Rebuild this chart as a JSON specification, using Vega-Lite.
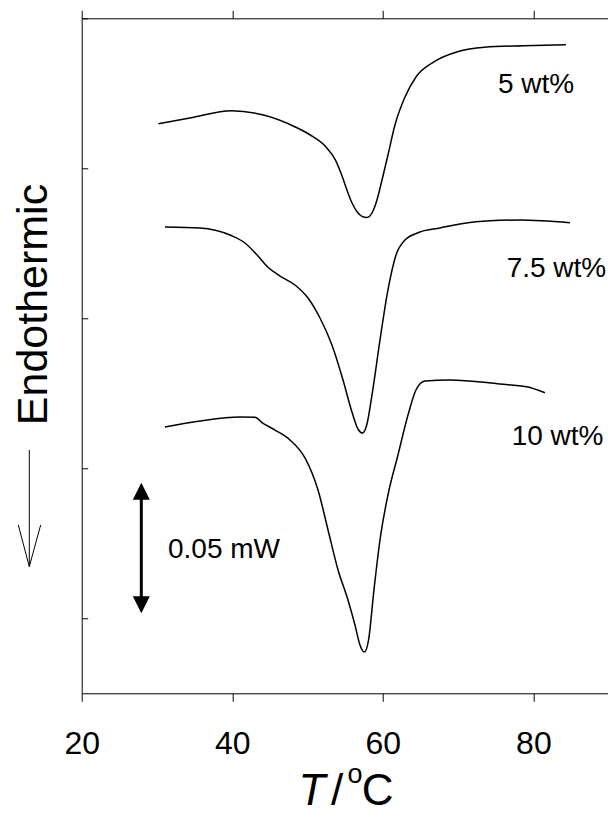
{
  "$schema": "https://vega.github.io/schema/vega-lite/v6.json",
  "width": 527,
  "height": 675,
  "autosize": "none",
  "padding": {"left": 81.7, "top": 18.3, "right": 0, "bottom": 128.7},
  "config": {
    "view": {"stroke": "#000", "strokeWidth": 1},
    "font": "Liberation Sans",
    "axis": {"grid": false, "domainColor": "#000", "tickColor": "#000", "labelColor": "#000", "titleColor": "#000", "labelFont": "Liberation Sans", "titleFont": "Liberation Sans"}
  },
  "datasets": {
    "curves": [
      {"s":"5 wt%","T":30.19,"q":3.797},{"s":"5 wt%","T":34.38,"q":3.835},{"s":"5 wt%","T":39.92,"q":3.884},{"s":"5 wt%","T":44.15,"q":3.855},{"s":"5 wt%","T":48.30,"q":3.777},{"s":"5 wt%","T":50.36,"q":3.722},{"s":"5 wt%","T":52.42,"q":3.644},{"s":"5 wt%","T":53.71,"q":3.555},{"s":"5 wt%","T":54.50,"q":3.460},{"s":"5 wt%","T":55.20,"q":3.360},{"s":"5 wt%","T":55.90,"q":3.270},{"s":"5 wt%","T":56.57,"q":3.210},{"s":"5 wt%","T":57.23,"q":3.180},{"s":"5 wt%","T":57.89,"q":3.172},{"s":"5 wt%","T":58.56,"q":3.202},{"s":"5 wt%","T":59.22,"q":3.289},{"s":"5 wt%","T":59.89,"q":3.422},{"s":"5 wt%","T":60.68,"q":3.589},{"s":"5 wt%","T":61.61,"q":3.789},{"s":"5 wt%","T":62.94,"q":3.975},{"s":"5 wt%","T":64.40,"q":4.109},{"s":"5 wt%","T":66.83,"q":4.211},{"s":"5 wt%","T":69.91,"q":4.277},{"s":"5 wt%","T":73.51,"q":4.307},{"s":"5 wt%","T":78.67,"q":4.317},{"s":"5 wt%","T":84.32,"q":4.324},
      {"s":"7.5 wt%","T":31.06,"q":3.109},{"s":"7.5 wt%","T":35.71,"q":3.102},{"s":"7.5 wt%","T":39.70,"q":3.055},{"s":"7.5 wt%","T":41.69,"q":3.002},{"s":"7.5 wt%","T":43.42,"q":2.915},{"s":"7.5 wt%","T":44.74,"q":2.840},{"s":"7.5 wt%","T":46.34,"q":2.782},{"s":"7.5 wt%","T":48.33,"q":2.722},{"s":"7.5 wt%","T":50.06,"q":2.635},{"s":"7.5 wt%","T":51.65,"q":2.502},{"s":"7.5 wt%","T":53.24,"q":2.322},{"s":"7.5 wt%","T":54.71,"q":2.089},{"s":"7.5 wt%","T":55.90,"q":1.875},{"s":"7.5 wt%","T":56.70,"q":1.762},{"s":"7.5 wt%","T":57.30,"q":1.735},{"s":"7.5 wt%","T":57.86,"q":1.789},{"s":"7.5 wt%","T":58.56,"q":1.989},{"s":"7.5 wt%","T":59.62,"q":2.355},{"s":"7.5 wt%","T":60.68,"q":2.689},{"s":"7.5 wt%","T":61.75,"q":2.922},{"s":"7.5 wt%","T":62.94,"q":3.022},{"s":"7.5 wt%","T":64.93,"q":3.075},{"s":"7.5 wt%","T":67.59,"q":3.102},{"s":"7.5 wt%","T":70.24,"q":3.129},{"s":"7.5 wt%","T":74.23,"q":3.151},{"s":"7.5 wt%","T":78.21,"q":3.155},{"s":"7.5 wt%","T":84.85,"q":3.137},
      {"s":"10 wt%","T":31.06,"q":1.775},{"s":"10 wt%","T":35.71,"q":1.815},{"s":"10 wt%","T":41.02,"q":1.842},{"s":"10 wt%","T":43.02,"q":1.840},{"s":"10 wt%","T":43.95,"q":1.805},{"s":"10 wt%","T":45.67,"q":1.755},{"s":"10 wt%","T":47.67,"q":1.689},{"s":"10 wt%","T":49.66,"q":1.569},{"s":"10 wt%","T":51.39,"q":1.355},{"s":"10 wt%","T":52.72,"q":1.089},{"s":"10 wt%","T":54.05,"q":0.822},{"s":"10 wt%","T":55.37,"q":0.622},{"s":"10 wt%","T":56.30,"q":0.455},{"s":"10 wt%","T":56.96,"q":0.322},{"s":"10 wt%","T":57.55,"q":0.275},{"s":"10 wt%","T":58.10,"q":0.355},{"s":"10 wt%","T":58.82,"q":0.689},{"s":"10 wt%","T":59.62,"q":1.022},{"s":"10 wt%","T":60.68,"q":1.322},{"s":"10 wt%","T":62.01,"q":1.589},{"s":"10 wt%","T":63.34,"q":1.855},{"s":"10 wt%","T":64.40,"q":2.022},{"s":"10 wt%","T":65.60,"q":2.082},{"s":"10 wt%","T":68.92,"q":2.089},{"s":"10 wt%","T":75.56,"q":2.062},{"s":"10 wt%","T":79.10,"q":2.044},{"s":"10 wt%","T":81.53,"q":2.004}
    ],
    "labels": [
      {"label":"5 wt%","T":75.29,"q":4.0},
      {"label":"7.5 wt%","T":76.45,"q":2.777},
      {"label":"10 wt%","T":77.11,"q":1.655}
    ]
  },
  "layer": [
    {
      "data": {"name": "curves"},
      "mark": {"type": "line", "interpolate": "monotone", "color": "#000", "strokeWidth": 1.5, "clip": false},
      "encoding": {
        "x": {"field": "T", "type": "quantitative", "scale": {"domain": [20, 90], "nice": false, "zero": false},
          "axis": {"orient": "bottom", "values": [20, 40, 60, 80], "tickSize": 8, "labelFontSize": 32, "labelPadding": 27, "labelFlush": false, "labelOverlap": false, "domain": false, "title": null}},
        "y": {"field": "q", "type": "quantitative", "scale": {"domain": [0, 4.5], "nice": false, "zero": false},
          "axis": {"orient": "left", "values": [0.5, 1.5, 2.5, 3.5, 4.5], "tickSize": -6, "labels": false, "domain": false,
            "title": "Endothermic", "titleFontSize": 43, "titleFontWeight": "normal", "titleAngle": 270, "titleBaseline": "alphabetic", "titleAlign": "center", "titleX": -34.7, "titleY": 285.7}},
        "detail": {"field": "s", "type": "nominal"}
      }
    },
    {
      "data": {"name": "labels"},
      "mark": {"type": "text", "align": "left", "baseline": "alphabetic", "fontSize": 28, "color": "#000"},
      "encoding": {
        "x": {"field": "T", "type": "quantitative", "axis": {"orient": "top", "values": [20, 40, 60, 80], "tickSize": 8, "labels": false, "domain": false, "title": null}},
        "y": {"field": "q", "type": "quantitative"},
        "text": {"field": "label"}
      }
    },
    {
      "data": {"values": [{"T": 27.92, "q1": 1.347, "q2": 0.59}]},
      "mark": {"type": "rule", "color": "#000", "strokeWidth": 3},
      "encoding": {
        "x": {"field": "T", "type": "quantitative", "axis": null},
        "y": {"field": "q1", "type": "quantitative"},
        "y2": {"field": "q2"}
      }
    },
    {
      "data": {"values": [{"T": 27.92, "q": 1.347, "dir": "up"}, {"T": 27.92, "q": 0.59, "dir": "down"}]},
      "mark": {"type": "point", "filled": true, "color": "#000", "opacity": 1, "size": 289, "strokeWidth": 0},
      "encoding": {
        "x": {"field": "T", "type": "quantitative", "axis": null},
        "y": {"field": "q", "type": "quantitative"},
        "shape": {"field": "dir", "type": "nominal", "scale": {"domain": ["up", "down"], "range": ["M0,-1L1,1L-1,1Z", "M0,1L1,-1L-1,-1Z"]}, "legend": null}
      }
    },
    {
      "data": {"values": [{"label": "0.05 mW", "T": 31.46, "q": 0.902}]},
      "mark": {"type": "text", "align": "left", "baseline": "alphabetic", "fontSize": 28, "color": "#000"},
      "encoding": {
        "x": {"field": "T", "type": "quantitative", "axis": null},
        "y": {"field": "q", "type": "quantitative"},
        "text": {"field": "label"}
      }
    },
    {
      "data": {"values": [
        {"seg": "shaft", "T": 13.04, "q": 1.622}, {"seg": "shaft", "T": 13.04, "q": 0.844},
        {"seg": "head", "T": 11.58, "q": 1.122}, {"seg": "head", "T": 13.04, "q": 0.844}, {"seg": "head", "T": 14.55, "q": 1.122}
      ]},
      "mark": {"type": "line", "color": "#000", "strokeWidth": 1, "clip": false},
      "encoding": {
        "x": {"field": "T", "type": "quantitative", "axis": null},
        "y": {"field": "q", "type": "quantitative"},
        "detail": {"field": "seg", "type": "nominal"},
        "order": {"field": "T", "type": "quantitative"}
      }
    },
    {
      "data": {"values": [{"part": "T", "T": 48.8, "q": -0.745}]},
      "mark": {"type": "text", "align": "left", "baseline": "alphabetic", "fontSize": 44, "fontStyle": "italic", "color": "#000"},
      "encoding": {
        "x": {"field": "T", "type": "quantitative", "axis": null},
        "y": {"field": "q", "type": "quantitative"},
        "text": {"field": "part"}
      }
    },
    {
      "data": {"values": [{"part": "/", "T": 53.1, "q": -0.745}, {"part": "C", "T": 57.2, "q": -0.745}]},
      "mark": {"type": "text", "align": "left", "baseline": "alphabetic", "fontSize": 44, "color": "#000"},
      "encoding": {
        "x": {"field": "T", "type": "quantitative", "axis": null},
        "y": {"field": "q", "type": "quantitative"},
        "text": {"field": "part"}
      }
    },
    {
      "data": {"values": [{"part": "o", "T": 55.3, "q": -0.6}]},
      "mark": {"type": "text", "align": "left", "baseline": "alphabetic", "fontSize": 27, "color": "#000"},
      "encoding": {
        "x": {"field": "T", "type": "quantitative", "axis": null},
        "y": {"field": "q", "type": "quantitative"},
        "text": {"field": "part"}
      }
    }
  ],
  "resolve": {"axis": {"x": "independent"}}
}
